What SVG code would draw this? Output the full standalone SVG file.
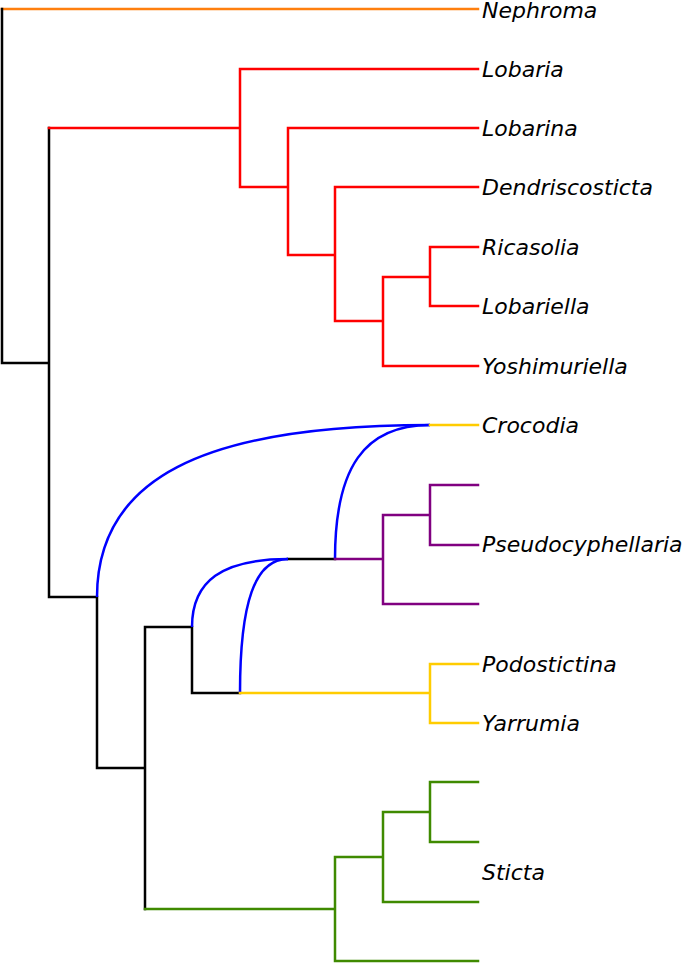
<svg xmlns="http://www.w3.org/2000/svg" width="685" height="963" viewBox="0 0 685 963">
<style>
  .e{fill:none;stroke-width:2.5;stroke-linecap:square;stroke-linejoin:miter}
  .k{stroke:#000}
  .o{stroke:#ff7f0e}
  .r{stroke:#ff0000}
  .b{stroke:#0000ff;stroke-linecap:butt}
  .p{stroke:#800080}
  .y{stroke:#ffcc00}
  .g{stroke:#3f8a00}
  text{font-family:"DejaVu Sans","Liberation Sans",sans-serif;font-style:italic;font-size:22px;fill:#000}
</style>
<rect width="685" height="963" fill="#fff"/>
<g id="connectors">
  <path class="e o" d="M2,9 H478"/>
  <path class="e k" d="M2,9 V363 H49 M49,363 V128 M49,363 V597 H97 V768 H145 M145,768 V627 H192 V693 H240 M145,768 V909 M288,559 H335"/>
  <path class="e r" d="M49,128 H240 V69 H478 M240,128 V187 H288 V128 H478 M288,187 V255 H335 V187 H478 M335,255 V321 H383 V277 H430 V247 H478 M430,277 V306 H478 M383,321 V366 H478"/>
  <path class="e b" d="M97,597 C97,480 200,425 430,425"/>
  <path class="e b" d="M192,627 C192,581 222,559 288,559"/>
  <path class="e b" d="M240,693 C240,602 255,559 288,559"/>
  <path class="e b" d="M335,559 C335,468 364,425 430,425"/>
  <path class="e y" d="M430,425 H478 M240,693 H430 M430,664 V723 M430,664 H478 M430,723 H478"/>
  <path class="e p" d="M335,559 H383 M383,515 V604 H478 M383,515 H430 M430,485 V545 M430,485 H478 M430,545 H478"/>
  <path class="e g" d="M145,909 H335 M335,857 V961 H478 M335,857 H383 V812 H430 V782 H478 M430,812 V842 H478 M383,857 V902 H478"/>
</g>
<g id="n-nephroma"><text x="482" y="18">Nephroma</text></g>
<g id="n-lobaria"><text x="482" y="77">Lobaria</text></g>
<g id="n-lobarina"><text x="482" y="136">Lobarina</text></g>
<g id="n-dendriscosticta"><text x="482" y="195">Dendriscosticta</text></g>
<g id="n-ricasolia"><text x="482" y="255">Ricasolia</text></g>
<g id="n-lobariella"><text x="482" y="314">Lobariella</text></g>
<g id="n-yoshimuriella"><text x="482" y="374">Yoshimuriella</text></g>
<g id="n-crocodia"><text x="482" y="433">Crocodia</text></g>
<g id="n-pseudocyphellaria"><text x="482" y="552">Pseudocyphellaria</text></g>
<g id="n-podostictina"><text x="482" y="672">Podostictina</text></g>
<g id="n-yarrumia"><text x="482" y="731">Yarrumia</text></g>
<g id="n-sticta"><text x="482" y="880">Sticta</text></g>
</svg>
